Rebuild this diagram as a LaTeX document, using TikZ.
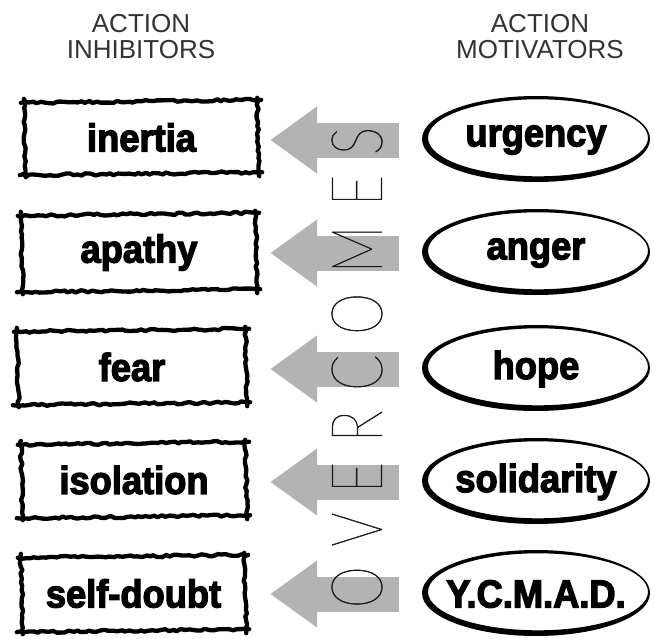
\documentclass[tikz,border=0pt]{standalone}
\usepackage{fontspec}
\setmainfont{Liberation Sans}
\newfontfamily\heavyfont{Liberation Sans}[BoldFeatures={FakeBold=3.2, FakeStretch=0.93}]
\newfontfamily\thinfont{Lato Thin}[FakeStretch=0.75, FakeBold=0.7]
\usetikzlibrary{arrows.meta,decorations.pathmorphing,calc}
\definecolor{arrowgray}{RGB}{179,179,179}
\definecolor{headgray}{RGB}{51,51,51}
\definecolor{lettergray}{RGB}{25,25,25}
\tikzset{
  head/.style={font=\fontsize{26}{26}\selectfont, text=headgray, align=center, inner sep=0},
  inhib/.style={inner sep=0, font=\heavyfont\bfseries\fontsize{39}{40}\selectfont},
  motiv/.style={inner sep=0, minimum width=228pt, minimum height=84pt, font=\heavyfont\bfseries\fontsize{39}{40}\selectfont},
  rough/.style={draw=black, line width=4.3pt, line cap=round, line join=round,
    decorate, decoration={random steps, segment length=4pt, amplitude=1.2pt}},
  overarrow/.style={draw=arrowgray, line width=35pt, -{Triangle[length=47pt,width=64pt]}, shorten <=23pt},
  letters/.style={rotate=90, inner sep=0, text=lettergray, font=\thinfont\fontsize{71}{71}\selectfont}
}
\newcommand\inhibbox[6]{%
  \node[inhib, minimum width={(#4-#2)*1pt}, minimum height={(#5-#3)*1pt}] (#1) at ({(#2+#4)/2},{(#3+#5)/2}) {#6};
  \draw[rough] ($(#1.north west)+(-4,1)$) -- ($(#1.north east)+(3,-2)$);
  \draw[rough] ($(#1.north east)+(-1,-4)$) -- ($(#1.south east)+(1,3)$);
  \draw[rough] ($(#1.south east)+(4,-1)$) -- ($(#1.south west)+(-5,2)$);
  \draw[rough] ($(#1.south west)+(1,4)$) -- ($(#1.north west)+(-1,-3)$);
}
\newcommand\motivnode[3]{%
  \fill[black, even odd rule] (536,{#2}) ellipse [x radius=114, y radius=43]
    ({538},{#2-1.2}) ellipse [x radius=110, y radius=38.5];
  \node[motiv] (#1) at (536,{#2+1}) {#3};
}
\begin{document}
\begin{tikzpicture}[x=1pt,y=-1pt]
\fill[white] (0,0) rectangle (654,638);
\useasboundingbox (0,0) rectangle (654,638);

\node[head, anchor=north] (inhibitors) at (141,14) {ACTION\\INHIBITORS};
\node[head, anchor=north] (motivators) at (540,14) {ACTION\\MOTIVATORS};

\inhibbox{inertia}{25}{102}{258}{173}{inertia}
\inhibbox{apathy}{22}{215}{256}{290}{apathy}
\inhibbox{fear}{18}{331}{246}{403}{fear}
\inhibbox{isolation}{22}{444}{246}{516}{isolation}
\inhibbox{selfdoubt}{22}{557}{245}{630}{self-doubt}

\motivnode{urgency}{139}{urgency}
\motivnode{anger}{252}{anger}
\motivnode{hope}{368}{hope}
\motivnode{solidarity}{481}{solidarity}
\motivnode{ycmad}{593}{Y.C.M.A.D.}

\draw[overarrow, shorten >=12pt] (urgency.west) -- (urgency.west -| inertia.east);
\draw[overarrow, shorten >=14pt] (anger.west) -- (anger.west -| apathy.east);
\draw[overarrow, shorten >=24pt] (hope.west) -- (hope.west -| fear.east);
\draw[overarrow, shorten >=24pt] (solidarity.west) -- (solidarity.west -| isolation.east);
\draw[overarrow, shorten >=25pt] (ycmad.west) -- (ycmad.west -| selfdoubt.east);

\node[letters] (overcomes) at (357,367.5) {\hbox to 481pt{O\hfill V\hfill E\hfill R\hfill C\hfill O\hfill M\hfill E\hfill S}};
\end{tikzpicture}
\end{document}
